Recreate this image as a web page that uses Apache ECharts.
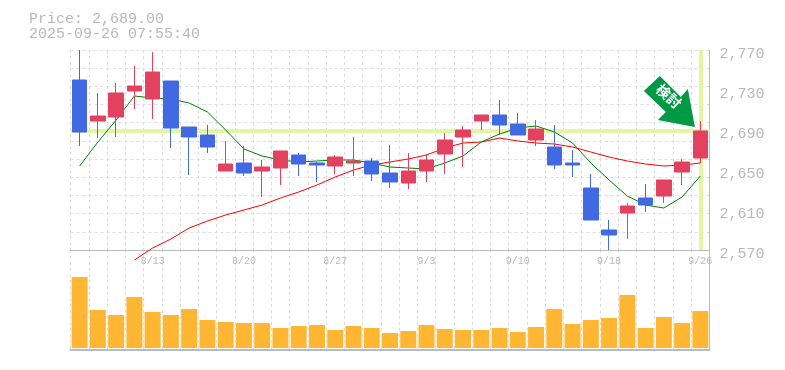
<!DOCTYPE html>
<html>
<head>
<meta charset="utf-8">
<style>
  html, body { margin: 0; padding: 0; background: #fff; }
  #chart { width: 785px; height: 370px; }
</style>
<script src="https://cdn.jsdelivr.net/npm/echarts@6/dist/echarts.min.js"></script>
</head>
<body>
<div id="chart"></div>
<script>
  var dates = ['8/6','8/7','8/8','8/12','8/13','8/14','8/15','8/18','8/19','8/20','8/21','8/22','8/25','8/26','8/27','8/28','8/29','9/1','9/2','9/3','9/4','9/5','9/8','9/9','9/10','9/11','9/12','9/16','9/17','9/18','9/19','9/22','9/24','9/25','9/26']
  var opens = [2740,2699,2703,2729,2721,2739,2693,2685,2649,2657,2649,2652,2665,2657,2654,2657,2659,2647,2637,2649,2666,2683,2699,2705,2696,2680,2673,2657,2632,2590,2607,2622,2624,2648,2662]
  var closes = [2688,2704,2727,2734,2748,2692,2683,2673,2656,2647,2653,2669,2656,2655,2663,2659,2646,2638,2649,2660,2680,2690,2705,2695,2685,2691,2655,2655,2600,2585,2614,2615,2640,2658,2689]
  var lows = [2674,2682,2683,2711,2701,2672,2645,2667,2649,2644,2623,2635,2644,2638,2646,2644,2639,2632,2631,2638,2646,2653,2690,2685,2685,2674,2651,2643,2600,2570,2581,2608,2617,2635,2657]
  var highs = [2770,2727,2737,2754,2768,2739,2693,2695,2679,2674,2660,2669,2667,2658,2665,2683,2662,2675,2667,2666,2687,2694,2705,2720,2707,2700,2695,2670,2646,2600,2617,2636,2640,2661,2699]
  var shortAvg = [2654,2678,2700,2724,2722,2721,2717,2708,2690,2671,2664,2660,2658,2659,2660,2660,2657,2653,2652,2651,2657,2664,2678,2686,2692,2694,2688,2677,2657,2640,2624,2615,2612,2623,2644]
  var longAvg = [null,null,null,2560,2572,2581,2592,2599,2605,2610,2615,2622,2628,2635,2643,2650,2655,2658,2661,2665,2672,2677,2678,2682,2679,2677,2676,2673,2668,2663,2659,2656,2654,2655,2657]
  var volumes = [71,38,33,51,36,33,39,28,26,25,25,20,22,23,18,22,20,15,17,23,19,18,18,20,16,21,39,24,28,30,53,20,31,25,37]
  var priceTicks = [2570,2610,2650,2690,2730,2770]
  var titleLines = ['Price: 2,689.00', '2025-09-26 07:55:40']
  var lastPrice = 2689
  var arrowText = '検討'

  var GRID_COLOR = '#dddddd'
  var AXIS_COLOR = '#bbbbbb'
  var TEXT_COLOR = '#b8b8b8'
  var MONO = '"Liberation Mono", monospace'

  var splitX = {
    show: true,
    interval: 0,
    lineStyle: { color: GRID_COLOR, type: [3, 3], width: 1 }
  }

  var myChart = echarts.init(document.getElementById('chart'))
  myChart.setOption({
    animation: false,
    backgroundColor: '#ffffff',
    title: {
      text: titleLines.join('\n'),
      left: 29,
      top: 12,
      padding: 0,
      textStyle: {
        color: TEXT_COLOR,
        fontFamily: MONO,
        fontSize: 15,
        fontWeight: 'normal',
        lineHeight: 15
      }
    },
    grid: [
      { left: 70.5, right: 75.5, top: 50, height: 200 },
      { left: 70.5, right: 75.5, top: 250, height: 100 }
    ],
    xAxis: [
      {
        type: 'category',
        gridIndex: 0,
        data: dates,
        axisLine: { onZero: false, lineStyle: { color: AXIS_COLOR, width: 1 } },
        axisTick: { show: false },
        axisLabel: {
          color: TEXT_COLOR,
          fontFamily: MONO,
          fontSize: 10,
          margin: 6,
          hideOverlap: false,
          interval: function (index) { return index % 5 === 4 }
        },
        splitLine: splitX
      },
      {
        type: 'category',
        gridIndex: 1,
        data: dates,
        axisLine: { onZero: false, lineStyle: { color: AXIS_COLOR, width: 2 } },
        axisTick: { show: false },
        axisLabel: { show: false },
        splitLine: splitX
      }
    ],
    yAxis: [
      {
        type: 'value',
        gridIndex: 0,
        position: 'right',
        min: 2570,
        max: 2770,
        axisLine: { show: true, lineStyle: { color: AXIS_COLOR, width: 1 } },
        axisTick: { show: false },
        splitLine: { show: false },
        axisLabel: {
          customValues: priceTicks,
          color: TEXT_COLOR,
          fontFamily: MONO,
          fontSize: 15,
          margin: 10,
          verticalAlign: 'top',
          lineHeight: 8,
          formatter: function (v) { return v.toLocaleString('en-US') }
        }
      },
      {
        // only carries the horizontal dotted lines
        type: 'value',
        gridIndex: 0,
        min: 0,
        max: 11,
        interval: 1,
        axisLine: { show: false },
        axisTick: { show: false },
        axisLabel: { show: false },
        splitLine: { show: true, lineStyle: { color: GRID_COLOR, type: [3, 3], width: 1 } }
      },
      {
        type: 'value',
        gridIndex: 1,
        position: 'right',
        min: -2,
        max: 98,
        axisLine: { show: true, lineStyle: { color: AXIS_COLOR, width: 1 } },
        axisTick: { show: false },
        axisLabel: { show: false },
        splitLine: { show: false }
      }
    ],
    series: [
      {
        type: 'line',
        name: 'marker',
        xAxisIndex: 0,
        yAxisIndex: 0,
        z: 1,
        data: [],
        markLine: {
          z: 1,
          silent: true,
          symbol: 'none',
          animation: false,
          label: { show: false },
          lineStyle: { color: '#e2f5a3', width: 4, type: 'solid' },
          data: [{ yAxis: lastPrice }, { xAxis: dates[dates.length - 1] }]
        }
      },
      {
        type: 'line',
        name: 'long',
        xAxisIndex: 0,
        yAxisIndex: 0,
        data: longAvg,
        symbol: 'none',
        clip: false,
        z: 2,
        lineStyle: { color: '#ff0000', width: 1 }
      },
      {
        type: 'line',
        name: 'short',
        xAxisIndex: 0,
        yAxisIndex: 0,
        data: shortAvg,
        symbol: 'none',
        z: 2,
        lineStyle: { color: '#008000', width: 1 }
      },
      {
        type: 'candlestick',
        xAxisIndex: 0,
        yAxisIndex: 0,
        barWidth: 15,
        z: 3,
        data: dates.map(function (d, i) {
          return [opens[i], closes[i], lows[i], highs[i]]
        }),
        itemStyle: {
          color: '#e2415f',
          color0: '#4169e1',
          borderColor: '#e2415f',
          borderColor0: '#4169e1',
          borderWidth: 1
        }
      },
      {
        type: 'bar',
        xAxisIndex: 1,
        yAxisIndex: 2,
        data: volumes,
        barWidth: 16,
        itemStyle: { color: '#ffb733' }
      },
      {
        type: 'scatter',
        name: 'arrow',
        xAxisIndex: 0,
        yAxisIndex: 0,
        z: 5,
        data: [[dates[dates.length - 1], 2693]],
        symbol: 'path://M16 0L0 15L22 36L14 44L51 51L44 13L37 21Z',
        symbolSize: 51,
        symbolOffset: [-31, -25.5],
        itemStyle: { color: '#009944', opacity: 1 },
        label: {
          show: true,
          position: 'inside',
          offset: [-4, -3.5],
          rotate: -42,
          color: '#ffffff',
          fontFamily: '"Noto Sans CJK JP"',
          fontSize: 14,
          fontWeight: 'bold',
          formatter: function () { return arrowText }
        }
      }
    ]
  })
</script>
</body>
</html>
